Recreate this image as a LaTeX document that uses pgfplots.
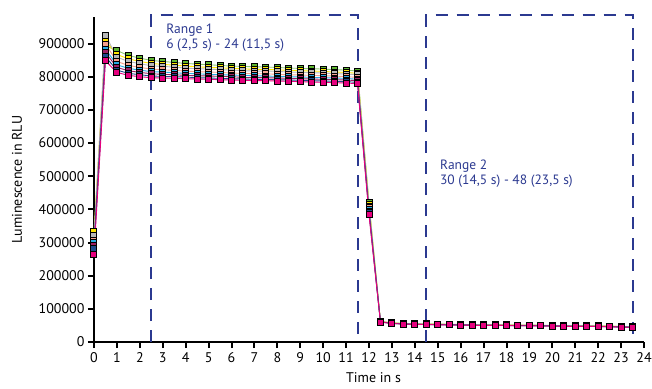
\documentclass[border=0pt]{standalone}
\usepackage{fontspec}
\setmainfont{PT Sans}
\usepackage{pgfplots}
\usepackage{pgfplotstable}
\pgfplotsset{compat=1.18}
\definecolor{rangecol}{HTML}{2B3990}
\definecolor{cgreen}{HTML}{5DB531}
\definecolor{cyellow}{HTML}{FFE600}
\definecolor{cgray}{HTML}{B8B8B8}
\definecolor{csalmon}{HTML}{F4A08C}
\definecolor{ccyan}{HTML}{29ABE2}
\definecolor{cpurple}{HTML}{9E1F63}
\definecolor{cnavy}{HTML}{1F4A8C}
\definecolor{cmagenta}{HTML}{E6007E}
\pgfplotstableread{
t s1 s2 s3 s4 s5 s6 s7 s8
0 310000 332000 320000 305000 300000 290000 282000 265000
0.5 893000 908000 925000 898000 883000 873000 860000 848000
1 879000 867000 859000 846000 836000 828000 820000 813000
1.5 864000 854000 846000 834000 825000 818000 810000 804000
2 856000 846000 839000 828000 820000 813000 806000 800000
2.5 849000 840000 833000 823000 815000 809000 802000 797000
3 846000 837000 831000 821000 814000 807000 801000 796000
3.5 843000 835000 829000 819000 812000 806000 800000 795000
4 840000 832000 826000 817000 810000 804000 799000 794000
4.5 838000 830000 824000 815000 809000 803000 797000 793000
5 836000 828000 823000 814000 807000 802000 796000 792000
5.5 834000 827000 821000 813000 806000 801000 795000 791000
6 832000 825000 820000 811000 805000 800000 794000 790000
6.5 831000 824000 818000 810000 804000 798000 793000 789000
7 830000 822000 817000 809000 803000 797000 792000 788000
7.5 829000 822000 817000 809000 802000 797000 792000 788000
8 828000 821000 816000 807000 801000 796000 791000 787000
8.5 826000 819000 814000 806000 800000 795000 790000 786000
9 825000 818000 813000 805000 799000 794000 789000 785000
9.5 824000 817000 812000 804000 798000 793000 788000 784000
10 823000 816000 811000 803000 797000 792000 787000 783000
10.5 821000 814000 809000 802000 796000 791000 786000 782000
11 820000 813000 808000 800000 795000 790000 785000 781000
11.5 817000 810000 806000 798000 792000 788000 783000 779000
12 420000 415000 410000 405000 400000 395000 390000 383000
12.5 62000 61500 61200 61000 60700 60400 60200 60000
13 58000 57500 57200 57000 56700 56400 56200 56000
13.5 56000 55500 55200 55000 54700 54400 54200 54000
14 55000 54500 54200 54000 53700 53400 53200 53000
14.5 54500 54000 53700 53500 53200 52900 52700 52500
15 54000 53500 53200 53000 52700 52400 52200 52000
15.5 53500 53000 52700 52500 52200 51900 51700 51500
16 53000 52500 52200 52000 51700 51400 51200 51000
16.5 52500 52000 51700 51500 51200 50900 50700 50500
17 52000 51500 51200 51000 50700 50400 50200 50000
17.5 52000 51500 51200 51000 50700 50400 50200 50000
18 51500 51000 50700 50500 50200 49900 49700 49500
18.5 51000 50500 50200 50000 49700 49400 49200 49000
19 51000 50500 50200 50000 49700 49400 49200 49000
19.5 50500 50000 49700 49500 49200 48900 48700 48500
20 50000 49500 49200 49000 48700 48400 48200 48000
20.5 49500 49000 48700 48500 48200 47900 47700 47500
21 49000 48500 48200 48000 47700 47400 47200 47000
21.5 49000 48500 48200 48000 47700 47400 47200 47000
22 48500 48000 47700 47500 47200 46900 46700 46500
22.5 48000 47500 47200 47000 46700 46400 46200 46000
23 47000 46500 46200 46000 45700 45400 45200 45000
23.5 46000 45500 45200 45000 44700 44400 44200 44000
}\datatable
\begin{document}
\begin{tikzpicture}
\begin{axis}[
  scale only axis, width=550pt, height=325pt,
  xmin=0, xmax=24, ymin=0, ymax=980000,
  axis x line*=bottom, axis y line*=left,
  axis line style={line width=2pt, black},
  xtick={0,...,24},
  ytick={0,100000,...,900000},
  scaled y ticks=false,
  tick align=outside, major tick length=6pt,
  tick style={line width=2pt, black},
  /pgf/number format/assume math mode=true,
  yticklabel style={/pgf/number format/fixed, /pgf/number format/1000 sep={}},
  ticklabel style={font=\fontsize{14}{16}\selectfont},
  xticklabel style={yshift=-1pt},
  label style={font=\fontsize{14}{16}\selectfont},
  ylabel={Luminescence in RLU},
  ylabel style={at={([xshift=-77pt]axis description cs:0,0.5)}, anchor=center},
  xlabel={Time in s},
  xlabel style={at={([yshift=-40pt]axis cs:12.2,0)}, anchor=base},
  clip=false,
  every axis plot/.append style={line width=0.9pt, mark=square*, mark size=3pt},
]
\draw[rangecol, line width=2pt, dash pattern=on 12pt off 9pt] (axis cs:2.5,0) -- (axis cs:2.5,985000) -- (axis cs:11.5,985000) -- (axis cs:11.5,0);
\draw[rangecol, line width=2pt, dash pattern=on 12pt off 9pt] (axis cs:14.5,0) -- (axis cs:14.5,985000) -- (axis cs:23.5,985000) -- (axis cs:23.5,0);
\node[rangecol, anchor=base west, font=\fontsize{13.5}{15}\selectfont] at (axis cs:3.0,930000) {Range 1};
\node[rangecol, anchor=base west, font=\fontsize{13.5}{15}\selectfont] at (axis cs:3.0,886000) {6 (2,5 s) - 24 (11,5 s)};
\node[rangecol, anchor=base west, font=\fontsize{13.5}{15}\selectfont] at (axis cs:14.95,519000) {Range 2};
\node[rangecol, anchor=base west, font=\fontsize{13.5}{15}\selectfont] at (axis cs:14.95,474000) {30 (14,5 s) - 48 (23,5 s)};
\addplot[color=cgreen!70!white, mark options={fill=cgreen, draw=black, line width=1pt}] table[x=t, y=s1] {\datatable};
\addplot[color=cyellow, mark options={fill=cyellow, draw=black, line width=1pt}] table[x=t, y=s2] {\datatable};
\addplot[color=cgray, mark options={fill=cgray, draw=black, line width=1pt}] table[x=t, y=s3] {\datatable};
\addplot[color=csalmon, mark options={fill=csalmon, draw=black, line width=1pt}] table[x=t, y=s4] {\datatable};
\addplot[color=ccyan, mark options={fill=ccyan, draw=black, line width=1pt}] table[x=t, y=s5] {\datatable};
\addplot[color=cpurple, mark options={fill=cpurple, draw=black, line width=1pt}] table[x=t, y=s6] {\datatable};
\addplot[color=cnavy, mark options={fill=cnavy, draw=black, line width=1pt}] table[x=t, y=s7] {\datatable};
\addplot[color=cmagenta, mark options={fill=cmagenta, draw=black, line width=1pt}] table[x=t, y=s8] {\datatable};
\end{axis}
\pgfresetboundingbox
\path[use as bounding box] (-94pt,-46pt) rectangle (558pt,342pt);
\end{tikzpicture}
\end{document}
